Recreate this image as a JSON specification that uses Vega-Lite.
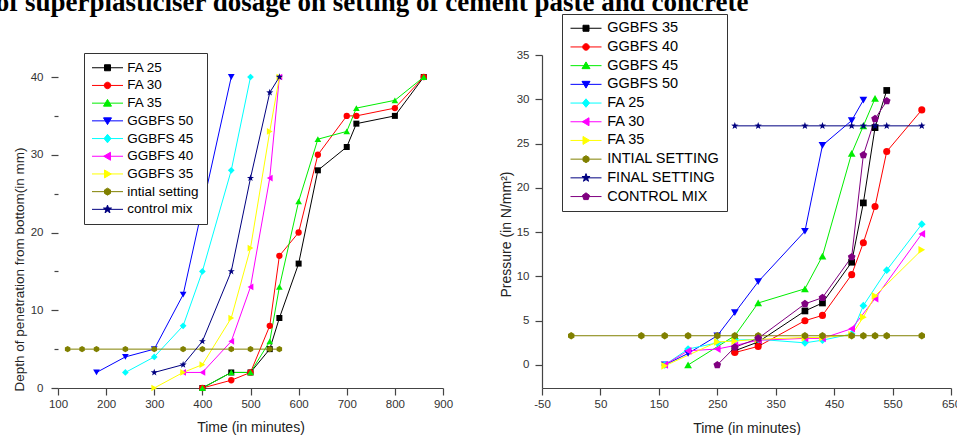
{
  "$schema": "https://vega.github.io/schema/vega-lite/v6.json",
  "background": "white",
  "autosize": {"type": "pad"},
  "padding": {"left": -5, "top": -12, "right": 0, "bottom": 0},
  "title": {
    "text": "of superplasticiser dosage on setting of cement paste and concrete",
    "anchor": "start",
    "frame": "bounds",
    "font": "Liberation Serif",
    "fontSize": 27,
    "fontWeight": "bold",
    "color": "#000000",
    "baseline": "alphabetic",
    "offset": -24,
    "dx": -16.75
  },
  "bounds": "flush",
  "spacing": 99,
  "datasets": {
    "L": [
      {"s": "FA 25", "t": 400, "v": 0}, {"s": "FA 25", "t": 460, "v": 2}, {"s": "FA 25", "t": 500, "v": 2}, {"s": "FA 25", "t": 540, "v": 5}, {"s": "FA 25", "t": 560, "v": 9}, {"s": "FA 25", "t": 600, "v": 16}, {"s": "FA 25", "t": 640, "v": 28}, {"s": "FA 25", "t": 700, "v": 31}, {"s": "FA 25", "t": 720, "v": 34}, {"s": "FA 25", "t": 800, "v": 35}, {"s": "FA 25", "t": 860, "v": 40},
      {"s": "FA 30", "t": 400, "v": 0}, {"s": "FA 30", "t": 460, "v": 1}, {"s": "FA 30", "t": 500, "v": 2}, {"s": "FA 30", "t": 540, "v": 8}, {"s": "FA 30", "t": 560, "v": 17}, {"s": "FA 30", "t": 600, "v": 20}, {"s": "FA 30", "t": 640, "v": 30}, {"s": "FA 30", "t": 700, "v": 35}, {"s": "FA 30", "t": 720, "v": 35}, {"s": "FA 30", "t": 800, "v": 36}, {"s": "FA 30", "t": 860, "v": 40},
      {"s": "FA 35", "t": 400, "v": 0}, {"s": "FA 35", "t": 460, "v": 2}, {"s": "FA 35", "t": 500, "v": 2}, {"s": "FA 35", "t": 540, "v": 6}, {"s": "FA 35", "t": 560, "v": 13}, {"s": "FA 35", "t": 600, "v": 24}, {"s": "FA 35", "t": 640, "v": 32}, {"s": "FA 35", "t": 700, "v": 33}, {"s": "FA 35", "t": 720, "v": 36}, {"s": "FA 35", "t": 800, "v": 37}, {"s": "FA 35", "t": 860, "v": 40},
      {"s": "GGBFS 50", "t": 180, "v": 2}, {"s": "GGBFS 50", "t": 240, "v": 4}, {"s": "GGBFS 50", "t": 300, "v": 5}, {"s": "GGBFS 50", "t": 360, "v": 12}, {"s": "GGBFS 50", "t": 460, "v": 40},
      {"s": "GGBFS 45", "t": 240, "v": 2}, {"s": "GGBFS 45", "t": 300, "v": 4}, {"s": "GGBFS 45", "t": 360, "v": 8}, {"s": "GGBFS 45", "t": 400, "v": 15}, {"s": "GGBFS 45", "t": 460, "v": 28}, {"s": "GGBFS 45", "t": 500, "v": 40},
      {"s": "GGBFS 40", "t": 360, "v": 2}, {"s": "GGBFS 40", "t": 400, "v": 2}, {"s": "GGBFS 40", "t": 460, "v": 6}, {"s": "GGBFS 40", "t": 500, "v": 13}, {"s": "GGBFS 40", "t": 540, "v": 27}, {"s": "GGBFS 40", "t": 560, "v": 40},
      {"s": "GGBFS 35", "t": 300, "v": 0}, {"s": "GGBFS 35", "t": 360, "v": 2}, {"s": "GGBFS 35", "t": 400, "v": 3}, {"s": "GGBFS 35", "t": 460, "v": 9}, {"s": "GGBFS 35", "t": 500, "v": 18}, {"s": "GGBFS 35", "t": 540, "v": 33}, {"s": "GGBFS 35", "t": 560, "v": 40},
      {"s": "intial setting", "t": 120, "v": 5}, {"s": "intial setting", "t": 150, "v": 5}, {"s": "intial setting", "t": 180, "v": 5}, {"s": "intial setting", "t": 240, "v": 5}, {"s": "intial setting", "t": 300, "v": 5}, {"s": "intial setting", "t": 360, "v": 5}, {"s": "intial setting", "t": 400, "v": 5}, {"s": "intial setting", "t": 460, "v": 5}, {"s": "intial setting", "t": 500, "v": 5}, {"s": "intial setting", "t": 540, "v": 5}, {"s": "intial setting", "t": 560, "v": 5},
      {"s": "control mix", "t": 300, "v": 2}, {"s": "control mix", "t": 360, "v": 3}, {"s": "control mix", "t": 400, "v": 6}, {"s": "control mix", "t": 460, "v": 15}, {"s": "control mix", "t": 500, "v": 27}, {"s": "control mix", "t": 540, "v": 38}, {"s": "control mix", "t": 560, "v": 40}
    ],
    "R": [
      {"s": "GGBFS 35", "t": 280, "v": 1.6}, {"s": "GGBFS 35", "t": 320, "v": 2.6}, {"s": "GGBFS 35", "t": 400, "v": 6.1}, {"s": "GGBFS 35", "t": 430, "v": 7}, {"s": "GGBFS 35", "t": 480, "v": 11.6}, {"s": "GGBFS 35", "t": 500, "v": 18.3}, {"s": "GGBFS 35", "t": 520, "v": 26.8}, {"s": "GGBFS 35", "t": 540, "v": 31},
      {"s": "GGBFS 40", "t": 280, "v": 1.4}, {"s": "GGBFS 40", "t": 320, "v": 2.1}, {"s": "GGBFS 40", "t": 400, "v": 5}, {"s": "GGBFS 40", "t": 430, "v": 5.6}, {"s": "GGBFS 40", "t": 480, "v": 10.2}, {"s": "GGBFS 40", "t": 500, "v": 13.8}, {"s": "GGBFS 40", "t": 520, "v": 17.9}, {"s": "GGBFS 40", "t": 540, "v": 24.1}, {"s": "GGBFS 40", "t": 600, "v": 28.8},
      {"s": "GGBFS 45", "t": 200, "v": 0}, {"s": "GGBFS 45", "t": 280, "v": 3.3}, {"s": "GGBFS 45", "t": 320, "v": 7}, {"s": "GGBFS 45", "t": 400, "v": 8.6}, {"s": "GGBFS 45", "t": 430, "v": 12.3}, {"s": "GGBFS 45", "t": 480, "v": 23.9}, {"s": "GGBFS 45", "t": 500, "v": 27}, {"s": "GGBFS 45", "t": 520, "v": 30.1},
      {"s": "GGBFS 50", "t": 160, "v": 0}, {"s": "GGBFS 50", "t": 200, "v": 1.3}, {"s": "GGBFS 50", "t": 250, "v": 3.3}, {"s": "GGBFS 50", "t": 280, "v": 5.9}, {"s": "GGBFS 50", "t": 320, "v": 9.4}, {"s": "GGBFS 50", "t": 400, "v": 15.1}, {"s": "GGBFS 50", "t": 430, "v": 24.8}, {"s": "GGBFS 50", "t": 480, "v": 27.6}, {"s": "GGBFS 50", "t": 500, "v": 29.9},
      {"s": "FA 25", "t": 160, "v": 0}, {"s": "FA 25", "t": 200, "v": 1.8}, {"s": "FA 25", "t": 250, "v": 2.5}, {"s": "FA 25", "t": 280, "v": 2.8}, {"s": "FA 25", "t": 320, "v": 2.9}, {"s": "FA 25", "t": 400, "v": 2.5}, {"s": "FA 25", "t": 430, "v": 2.8}, {"s": "FA 25", "t": 480, "v": 3.5}, {"s": "FA 25", "t": 500, "v": 6.7}, {"s": "FA 25", "t": 540, "v": 10.7}, {"s": "FA 25", "t": 600, "v": 15.9},
      {"s": "FA 30", "t": 160, "v": 0}, {"s": "FA 30", "t": 200, "v": 1.6}, {"s": "FA 30", "t": 250, "v": 1.8}, {"s": "FA 30", "t": 280, "v": 2.2}, {"s": "FA 30", "t": 320, "v": 2.8}, {"s": "FA 30", "t": 400, "v": 3}, {"s": "FA 30", "t": 430, "v": 3}, {"s": "FA 30", "t": 480, "v": 4.1}, {"s": "FA 30", "t": 520, "v": 7.5}, {"s": "FA 30", "t": 600, "v": 14.8},
      {"s": "FA 35", "t": 160, "v": -0.1}, {"s": "FA 35", "t": 250, "v": 2.6}, {"s": "FA 35", "t": 280, "v": 2.7}, {"s": "FA 35", "t": 320, "v": 2.9}, {"s": "FA 35", "t": 400, "v": 3.1}, {"s": "FA 35", "t": 430, "v": 3.1}, {"s": "FA 35", "t": 480, "v": 3.4}, {"s": "FA 35", "t": 500, "v": 5.4}, {"s": "FA 35", "t": 520, "v": 7.8}, {"s": "FA 35", "t": 600, "v": 13},
      {"s": "INTIAL SETTING", "t": 0, "v": 3.3}, {"s": "INTIAL SETTING", "t": 120, "v": 3.3}, {"s": "INTIAL SETTING", "t": 160, "v": 3.3}, {"s": "INTIAL SETTING", "t": 200, "v": 3.3}, {"s": "INTIAL SETTING", "t": 250, "v": 3.3}, {"s": "INTIAL SETTING", "t": 280, "v": 3.3}, {"s": "INTIAL SETTING", "t": 320, "v": 3.3}, {"s": "INTIAL SETTING", "t": 400, "v": 3.3}, {"s": "INTIAL SETTING", "t": 430, "v": 3.3}, {"s": "INTIAL SETTING", "t": 480, "v": 3.3}, {"s": "INTIAL SETTING", "t": 500, "v": 3.3}, {"s": "INTIAL SETTING", "t": 520, "v": 3.3}, {"s": "INTIAL SETTING", "t": 540, "v": 3.3}, {"s": "INTIAL SETTING", "t": 600, "v": 3.3},
      {"s": "FINAL SETTING", "t": 280, "v": 27}, {"s": "FINAL SETTING", "t": 320, "v": 27}, {"s": "FINAL SETTING", "t": 400, "v": 27}, {"s": "FINAL SETTING", "t": 430, "v": 27}, {"s": "FINAL SETTING", "t": 480, "v": 27}, {"s": "FINAL SETTING", "t": 500, "v": 27}, {"s": "FINAL SETTING", "t": 520, "v": 27}, {"s": "FINAL SETTING", "t": 540, "v": 27}, {"s": "FINAL SETTING", "t": 600, "v": 27},
      {"s": "CONTROL MIX", "t": 250, "v": 0}, {"s": "CONTROL MIX", "t": 280, "v": 2}, {"s": "CONTROL MIX", "t": 320, "v": 3}, {"s": "CONTROL MIX", "t": 400, "v": 6.9}, {"s": "CONTROL MIX", "t": 430, "v": 7.6}, {"s": "CONTROL MIX", "t": 480, "v": 12.2}, {"s": "CONTROL MIX", "t": 500, "v": 23.7}, {"s": "CONTROL MIX", "t": 520, "v": 27.8}, {"s": "CONTROL MIX", "t": 540, "v": 29.8}
    ]
  },
  "hconcat": [
    {
      "width": 385,
      "height": 333,
      "data": {"name": "L"},
      "encoding": {
        "x": {"field": "t", "type": "quantitative"},
        "y": {"field": "v", "type": "quantitative"}
      },
      "layer": [
        {
          "data": {"values": [{}]},
          "mark": {"type": "rule", "color": "#444444", "strokeWidth": 1.2},
          "encoding": {
            "x": {"datum": 100, "type": "quantitative"},
            "y": {"datum": 0, "type": "quantitative"},
            "y2": {"datum": 40}
          }
        },
        {
          "mark": {"type": "point", "filled": true, "opacity": 0, "size": 10, "strokeWidth": 1},
          "encoding": {
            "color": {
              "field": "s", "type": "nominal",
              "scale": {
                "domain": ["FA 25", "FA 30", "FA 35", "GGBFS 50", "GGBFS 45", "GGBFS 40", "GGBFS 35", "intial setting", "control mix"],
                "range": ["#000000", "#ff0000", "#00ee00", "#0000ff", "#00ffff", "#ff00ff", "#ffff00", "#808000", "#000080"]
              },
              "legend": {
                "orient": "none", "legendX": 26, "legendY": -2,
                "title": null,
                "padding": 8, "rowPadding": 2.7,
                "symbolSize": 100, "symbolOffset": 8.75, "labelOffset": 13,
                "symbolStrokeWidth": 1, "symbolOpacity": 1,
                "labelFontSize": 13.5
              }
            },
            "stroke": {"field": "s", "type": "nominal"},
            "shape": {
              "field": "s", "type": "nominal",
              "scale": {
                "domain": ["FA 25", "FA 30", "FA 35", "GGBFS 50", "GGBFS 45", "GGBFS 40", "GGBFS 35", "intial setting", "control mix"],
                "range": ["M-3.1,0H3.1M-0.6,-0.6H0.6V0.6H-0.6Z", "M-3.1,0H3.1M-0.65,0A0.65,0.65,0,1,0,0.65,0A0.65,0.65,0,1,0,-0.65,0Z", "M-3.1,0H3.1M0,-0.75L0.8,0.6L-0.8,0.6Z", "M-3.1,0H3.1M0,0.75L0.8,-0.6L-0.8,-0.6Z", "M-3.1,0H3.1M0,-0.85L0.7,0L0,0.85L-0.7,0Z", "M-3.1,0H3.1M-0.75,0L0.6,-0.8L0.6,0.8Z", "M-3.1,0H3.1M0.75,0L-0.6,-0.8L-0.6,0.8Z", "M-3.1,0H3.1M0,-0.7L0.6,-0.35L0.6,0.35L0,0.7L-0.6,0.35L-0.6,-0.35Z", "M-3.1,0H3.1M0,-0.85L0.2,-0.275L0.808,-0.263L0.323,0.105L0.5,0.688L0,0.34L-0.5,0.688L-0.323,0.105L-0.808,-0.263L-0.2,-0.275Z"]
              }
            }
          }
        },
        {
          "mark": {"type": "line", "strokeWidth": 1},
          "encoding": {
            "x": {
              "field": "t", "type": "quantitative",
              "scale": {"domain": [100, 900], "nice": false, "zero": false},
              "axis": {
                "title": "Time (in minutes)",
                "values": [100, 150, 200, 250, 300, 350, 400, 450, 500, 550, 600, 650, 700, 750, 800, 850, 900],
                "labelExpr": "datum.value % 100 === 0 ? datum.label : ''",
                "tickSize": {"condition": {"test": "datum.value % 100 !== 0", "value": 4}, "value": 7},
                "labelPadding": 3,
                "titleY": 43,
                "titleBaseline": "alphabetic"
              }
            },
            "y": {
              "field": "v", "type": "quantitative",
              "scale": {"domain": [0, 42.83], "nice": false, "zero": false},
              "axis": {
                "title": "Depth of penetration from bottom(in mm)",
                "domain": false,
                "values": [0, 5, 10, 15, 20, 25, 30, 35, 40],
                "labelExpr": "datum.value % 10 === 0 ? datum.label : ''",
                "tickSize": {"condition": {"test": "datum.value % 10 !== 0", "value": 4}, "value": 7},
                "labelPadding": 8,
                "titleX": -38.5,
                "titleY": 214,
                "titleAngle": 270,
                "titleBaseline": "middle",
                "titleFontSize": 13.5
              }
            },
            "stroke": {
              "field": "s", "type": "nominal",
              "scale": {
                "domain": ["FA 25", "FA 30", "FA 35", "GGBFS 50", "GGBFS 45", "GGBFS 40", "GGBFS 35", "intial setting", "control mix"],
                "range": ["#000000", "#ff0000", "#00ee00", "#0000ff", "#00ffff", "#ff00ff", "#ffff00", "#808000", "#000080"]
              }
            }
          }
        },
        {"transform": [{"filter": "datum.s === 'FA 25'"}], "mark": {"type": "point", "filled": true, "opacity": 1, "size": 36, "shape": "square"}, "encoding": {"color": {"field": "s", "type": "nominal"}}},
        {"transform": [{"filter": "datum.s === 'FA 30'"}], "mark": {"type": "point", "filled": true, "opacity": 1, "size": 40, "shape": "circle"}, "encoding": {"color": {"field": "s", "type": "nominal"}}},
        {"transform": [{"filter": "datum.s === 'FA 35'"}], "mark": {"type": "point", "filled": true, "opacity": 1, "size": 45, "shape": "triangle-up"}, "encoding": {"color": {"field": "s", "type": "nominal"}}},
        {"transform": [{"filter": "datum.s === 'GGBFS 50'"}], "mark": {"type": "point", "filled": true, "opacity": 1, "size": 45, "shape": "triangle-down"}, "encoding": {"color": {"field": "s", "type": "nominal"}}},
        {"transform": [{"filter": "datum.s === 'GGBFS 45'"}], "mark": {"type": "point", "filled": true, "opacity": 1, "size": 45, "shape": "diamond"}, "encoding": {"color": {"field": "s", "type": "nominal"}}},
        {"transform": [{"filter": "datum.s === 'GGBFS 40'"}], "mark": {"type": "point", "filled": true, "opacity": 1, "size": 45, "shape": "triangle-left"}, "encoding": {"color": {"field": "s", "type": "nominal"}}},
        {"transform": [{"filter": "datum.s === 'GGBFS 35'"}], "mark": {"type": "point", "filled": true, "opacity": 1, "size": 45, "shape": "triangle-right"}, "encoding": {"color": {"field": "s", "type": "nominal"}}},
        {"transform": [{"filter": "datum.s === 'intial setting'"}], "mark": {"type": "point", "filled": true, "opacity": 1, "size": 40, "shape": "M0,-1L0.866,-0.5L0.866,0.5L0,1L-0.866,0.5L-0.866,-0.5Z"}, "encoding": {"color": {"field": "s", "type": "nominal"}}},
        {"transform": [{"filter": "datum.s === 'control mix'"}], "mark": {"type": "point", "filled": true, "opacity": 1, "size": 55, "shape": "M0,-1L0.235,-0.324L0.951,-0.309L0.38,0.124L0.588,0.809L0,0.4L-0.588,0.809L-0.38,0.124L-0.951,-0.309L-0.235,-0.324Z"}, "encoding": {"color": {"field": "s", "type": "nominal"}}}
      ]
    },
    {
      "width": 409,
      "height": 333,
      "data": {"name": "R"},
      "encoding": {
        "x": {"field": "t", "type": "quantitative"},
        "y": {"field": "v", "type": "quantitative"}
      },
      "layer": [
        {
          "mark": {"type": "point", "filled": true, "opacity": 0, "size": 10, "strokeWidth": 1},
          "encoding": {
            "color": {
              "field": "s", "type": "nominal",
              "scale": {
                "domain": ["GGBFS 35", "GGBFS 40", "GGBFS 45", "GGBFS 50", "FA 25", "FA 30", "FA 35", "INTIAL SETTING", "FINAL SETTING", "CONTROL MIX"],
                "range": ["#000000", "#ff0000", "#00ee00", "#0000ff", "#00ffff", "#ff00ff", "#ffff00", "#808000", "#000080", "#800080"]
              },
              "legend": {
                "orient": "none", "legendX": 20, "legendY": -41,
                "title": null,
                "padding": 7, "rowPadding": 3.7,
                "symbolSize": 100, "symbolOffset": 9.75, "labelOffset": 14,
                "symbolStrokeWidth": 1, "symbolOpacity": 1,
                "labelFontSize": 14.5
              }
            },
            "stroke": {"field": "s", "type": "nominal"},
            "shape": {
              "field": "s", "type": "nominal",
              "scale": {
                "domain": ["GGBFS 35", "GGBFS 40", "GGBFS 45", "GGBFS 50", "FA 25", "FA 30", "FA 35", "INTIAL SETTING", "FINAL SETTING", "CONTROL MIX"],
                "range": ["M-3.1,0H3.1M-0.6,-0.6H0.6V0.6H-0.6Z", "M-3.1,0H3.1M-0.65,0A0.65,0.65,0,1,0,0.65,0A0.65,0.65,0,1,0,-0.65,0Z", "M-3.1,0H3.1M0,-0.75L0.8,0.6L-0.8,0.6Z", "M-3.1,0H3.1M0,0.75L0.8,-0.6L-0.8,-0.6Z", "M-3.1,0H3.1M0,-0.85L0.7,0L0,0.85L-0.7,0Z", "M-3.1,0H3.1M-0.75,0L0.6,-0.8L0.6,0.8Z", "M-3.1,0H3.1M0.75,0L-0.6,-0.8L-0.6,0.8Z", "M-3.1,0H3.1M0,-0.7L0.6,-0.35L0.6,0.35L0,0.7L-0.6,0.35L-0.6,-0.35Z", "M-3.1,0H3.1M0,-0.85L0.2,-0.275L0.808,-0.263L0.323,0.105L0.5,0.688L0,0.34L-0.5,0.688L-0.323,0.105L-0.808,-0.263L-0.2,-0.275Z", "M-3.1,0H3.1M0,-0.75L0.713,-0.232L0.441,0.607L-0.441,0.607L-0.713,-0.232Z"]
              }
            }
          }
        },
        {
          "mark": {"type": "line", "strokeWidth": 1},
          "encoding": {
            "x": {
              "field": "t", "type": "quantitative",
              "scale": {"domain": [-50, 650], "nice": false, "zero": false},
              "axis": {
                "title": "Time (in minutes)",
                "values": [-50, -25, 0, 25, 50, 75, 100, 125, 150, 175, 200, 225, 250, 275, 300, 325, 350, 375, 400, 425, 450, 475, 500, 525, 550, 575, 600, 625, 650],
                "labelExpr": "datum.value % 50 === 0 ? replace(datum.label, '\u2212', '-') : ''",
                "tickSize": {"condition": {"test": "datum.value % 50 !== 0", "value": 4}, "value": 7},
                "labelPadding": 3,
                "titleY": 44,
                "titleBaseline": "alphabetic"
              }
            },
            "y": {
              "field": "v", "type": "quantitative",
              "scale": {"domain": [-2.6, 35], "nice": false, "zero": false},
              "axis": {
                "title": "Pressure (in N/mm²)",
                "values": [0, 2.5, 5, 7.5, 10, 12.5, 15, 17.5, 20, 22.5, 25, 27.5, 30, 32.5, 35],
                "labelExpr": "datum.value % 5 === 0 ? datum.label : ''",
                "tickSize": {"condition": {"test": "datum.value % 5 !== 0", "value": 4}, "value": 7},
                "labelPadding": 6,
                "titleX": -36,
                "titleY": 179,
                "titleAngle": 270,
                "titleBaseline": "middle"
              }
            },
            "stroke": {
              "field": "s", "type": "nominal",
              "scale": {
                "domain": ["GGBFS 35", "GGBFS 40", "GGBFS 45", "GGBFS 50", "FA 25", "FA 30", "FA 35", "INTIAL SETTING", "FINAL SETTING", "CONTROL MIX"],
                "range": ["#000000", "#ff0000", "#00ee00", "#0000ff", "#00ffff", "#ff00ff", "#ffff00", "#808000", "#000080", "#800080"]
              }
            }
          }
        },
        {"transform": [{"filter": "datum.s === 'GGBFS 35'"}], "mark": {"type": "point", "filled": true, "opacity": 1, "size": 45, "shape": "square"}, "encoding": {"color": {"field": "s", "type": "nominal"}}},
        {"transform": [{"filter": "datum.s === 'GGBFS 40'"}], "mark": {"type": "point", "filled": true, "opacity": 1, "size": 50, "shape": "circle"}, "encoding": {"color": {"field": "s", "type": "nominal"}}},
        {"transform": [{"filter": "datum.s === 'GGBFS 45'"}], "mark": {"type": "point", "filled": true, "opacity": 1, "size": 60, "shape": "triangle-up"}, "encoding": {"color": {"field": "s", "type": "nominal"}}},
        {"transform": [{"filter": "datum.s === 'GGBFS 50'"}], "mark": {"type": "point", "filled": true, "opacity": 1, "size": 60, "shape": "triangle-down"}, "encoding": {"color": {"field": "s", "type": "nominal"}}},
        {"transform": [{"filter": "datum.s === 'FA 25'"}], "mark": {"type": "point", "filled": true, "opacity": 1, "size": 60, "shape": "diamond"}, "encoding": {"color": {"field": "s", "type": "nominal"}}},
        {"transform": [{"filter": "datum.s === 'FA 30'"}], "mark": {"type": "point", "filled": true, "opacity": 1, "size": 60, "shape": "triangle-left"}, "encoding": {"color": {"field": "s", "type": "nominal"}}},
        {"transform": [{"filter": "datum.s === 'FA 35'"}], "mark": {"type": "point", "filled": true, "opacity": 1, "size": 60, "shape": "triangle-right"}, "encoding": {"color": {"field": "s", "type": "nominal"}}},
        {"transform": [{"filter": "datum.s === 'INTIAL SETTING'"}], "mark": {"type": "point", "filled": true, "opacity": 1, "size": 55, "shape": "M0,-1L0.866,-0.5L0.866,0.5L0,1L-0.866,0.5L-0.866,-0.5Z"}, "encoding": {"color": {"field": "s", "type": "nominal"}}},
        {"transform": [{"filter": "datum.s === 'FINAL SETTING'"}], "mark": {"type": "point", "filled": true, "opacity": 1, "size": 60, "shape": "M0,-1L0.235,-0.324L0.951,-0.309L0.38,0.124L0.588,0.809L0,0.4L-0.588,0.809L-0.38,0.124L-0.951,-0.309L-0.235,-0.324Z"}, "encoding": {"color": {"field": "s", "type": "nominal"}}},
        {"transform": [{"filter": "datum.s === 'CONTROL MIX'"}], "mark": {"type": "point", "filled": true, "opacity": 1, "size": 65, "shape": "M0,-1L0.951,-0.309L0.588,0.809L-0.588,0.809L-0.951,-0.309Z"}, "encoding": {"color": {"field": "s", "type": "nominal"}}}
      ]
    }
  ],
  "resolve": {"scale": {"color": "independent", "stroke": "independent", "shape": "independent", "x": "independent", "y": "independent"}},
  "config": {
    "view": {"stroke": null},
    "axis": {
      "grid": false,
      "domainColor": "#444444", "domainWidth": 1.2,
      "tickColor": "#444444", "tickWidth": 1.2,
      "labelColor": "#333333", "labelFont": "Liberation Sans", "labelFontSize": 11.5,
      "titleFont": "Liberation Sans", "titleFontSize": 14, "titleFontWeight": "normal", "titleColor": "#222222",
      "labelOverlap": false, "labelFlush": false, "labelBound": false
    },
    "legend": {
      "labelFont": "Liberation Sans", "labelColor": "#000000", "labelLimit": 300,
      "fillColor": "#ffffff", "strokeColor": "#333333"
    }
  }
}
